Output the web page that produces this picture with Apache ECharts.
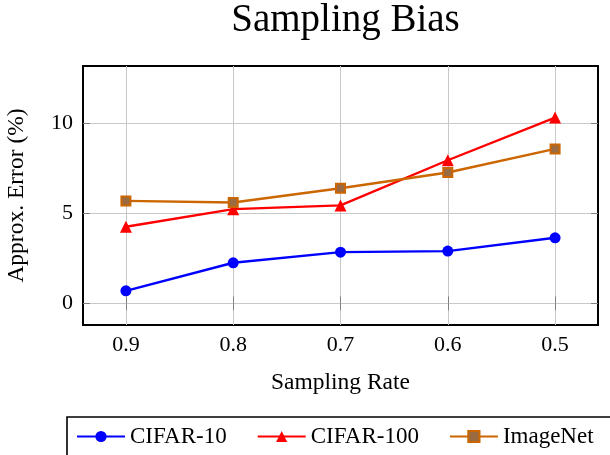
<!DOCTYPE html>
<html>
<head>
<meta charset="utf-8">
<script src="https://cdn.jsdelivr.net/npm/echarts@6/dist/echarts.min.js"></script>
<style>html,body{margin:0;padding:0;background:#fff;}#c{width:610px;height:455px;}</style>
</head>
<body>
<div id="c"></div>
<script>
const rates = [0.9, 0.8, 0.7, 0.6, 0.5];
const xTicks = [0.9, 0.8, 0.7, 0.6, 0.5];
const yTicks = [0, 5, 10];
const cifar10 = [0.70, 2.26, 2.85, 2.91, 3.65];
const cifar100 = [4.26, 5.24, 5.45, 7.96, 10.33];
const imagenet = [5.70, 5.61, 6.40, 7.28, 8.59];

const serif = 'Liberation Serif';
const pair = (vals) => rates.map((r, i) => [r, vals[i]]);

const chart = echarts.init(document.getElementById('c'), null, {renderer: 'canvas'});
const tickStyle = {show: true, inside: true, length: 7, lineStyle: {color: '#808080', width: 1}};
chart.setOption({
  animation: false,
  title: {
    text: 'Sampling Bias', left: 340.5, top: -4, textAlign: 'center',
    textStyle: {fontFamily: serif, fontSize: 39, fontWeight: 'normal', color: '#000'}
  },
  grid: {left: 83, right: 12, top: 66, bottom: 130, show: true, borderColor: '#000', borderWidth: 2,
    backgroundColor: 'transparent', containLabel: false, outerBoundsMode: 'none'},
  legend: {
    left: 67, top: 417, orient: 'horizontal', width: 600,
    padding: [8, 40, 8, 9], itemGap: 30, itemWidth: 48, itemHeight: 14,
    borderColor: '#000', borderWidth: 1.6, borderRadius: 0,
    textStyle: {fontFamily: serif, fontSize: 23, color: '#000'},
    data: ['CIFAR-10', 'CIFAR-100', 'ImageNet']
  },
  xAxis: [{
    type: 'value', inverse: true, min: 0.46, max: 0.94,
    name: 'Sampling Rate', nameLocation: 'middle', nameGap: 46,
    nameTextStyle: {fontFamily: serif, fontSize: 23.5, color: '#000'},
    axisLine: {show: false},
    axisTick: Object.assign({customValues: xTicks}, tickStyle),
    axisLabel: {customValues: xTicks, fontFamily: serif, fontSize: 22, color: '#000', margin: 9,
      formatter: v => v.toFixed(1)},
    splitLine: {show: true, lineStyle: {color: '#c8c8c8', width: 1}}
  }, {
    type: 'value', inverse: true, min: 0.46, max: 0.94, position: 'top',
    axisLine: {show: false},
    axisTick: Object.assign({customValues: xTicks}, tickStyle),
    axisLabel: {show: false, customValues: xTicks},
    splitLine: {show: false}
  }],
  yAxis: [{
    type: 'value', min: -1.2, max: 13.2,
    name: 'Approx. Error (%)', nameLocation: 'middle', nameGap: 54, nameRotate: 90,
    nameTextStyle: {fontFamily: serif, fontSize: 23.5, color: '#000'},
    axisLine: {show: false},
    axisTick: Object.assign({customValues: yTicks}, tickStyle),
    axisLabel: {customValues: yTicks, fontFamily: serif, fontSize: 22, color: '#000', margin: 10},
    splitLine: {show: true, lineStyle: {color: '#c8c8c8', width: 1}}
  }, {
    type: 'value', min: -1.2, max: 13.2, position: 'right',
    axisLine: {show: false},
    axisTick: Object.assign({customValues: yTicks}, tickStyle),
    axisLabel: {show: false, customValues: yTicks},
    splitLine: {show: false}
  }],
  series: [{
    name: 'CIFAR-10', type: 'line', data: pair(cifar10),
    symbol: 'circle', symbolSize: 11,
    lineStyle: {color: '#0000ff', width: 2.4}, itemStyle: {color: '#0000ff'}
  }, {
    name: 'CIFAR-100', type: 'line', data: pair(cifar100),
    symbol: 'triangle', symbolSize: 12,
    lineStyle: {color: '#ff0000', width: 2.4}, itemStyle: {color: '#ff0000'}
  }, {
    name: 'ImageNet', type: 'line', data: pair(imagenet),
    symbol: 'rect', symbolSize: 9,
    lineStyle: {color: '#cc6600', width: 2.4}, itemStyle: {color: '#9a6a40', borderColor: '#cc6600', borderWidth: 2}
  }]
});
</script>
</body>
</html>
